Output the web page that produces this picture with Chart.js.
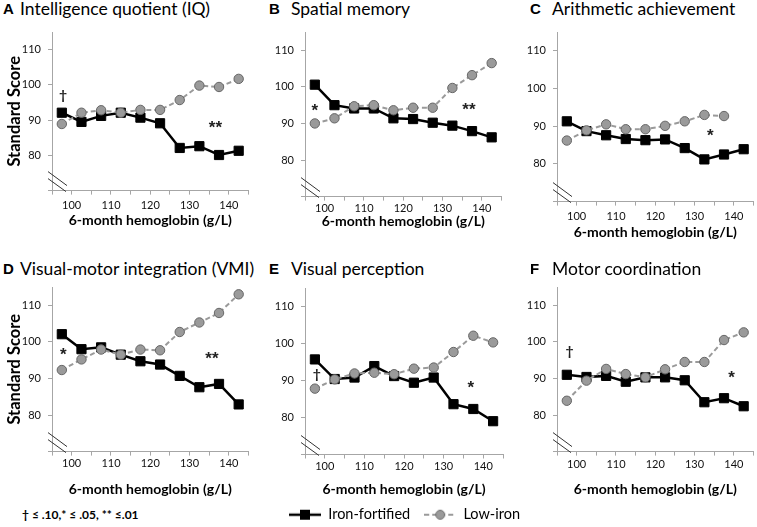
<!DOCTYPE html>
<html>
<head>
<meta charset="utf-8">
<script src="https://cdn.jsdelivr.net/npm/chart.js@4.4.0/dist/chart.umd.min.js"></script>
<style>
  html, body { margin: 0; padding: 0; background: #fff; }
  body { width: 757px; height: 527px; position: relative; overflow: hidden; font-family: Lato, sans-serif; color: #000; }
  canvas { position: absolute; }
  .letter { position: absolute; font-family: 'Liberation Sans', Arial, sans-serif; font-weight: bold; font-size: 15px; line-height: 20px; }
  .title { position: absolute; font-size: 17.5px; line-height: 20px; white-space: nowrap; }
  .footnote { position: absolute; left: 22px; top: 507px; font-size: 12px; font-weight: bold; line-height: 16px; white-space: nowrap; }
</style>
</head>
<body>
<div class="footnote">† ≤ .10,* ≤ .05, ** ≤.01</div>
<script>
// x positions of the ten hemoglobin groups, axis ticks
const hemoglobin = [97.5, 102.5, 107.5, 112.5, 117.5, 122.5, 127.5, 132.5, 137.5, 142.5];
const xTickMarks = [95, 100, 105, 110, 115, 120, 125, 130, 135, 140, 145];
const xTickLabels = [100, 110, 120, 130, 140];
const yTickMarks = [70, 80, 90, 100, 110];
const yTickLabels = [80, 90, 100, 110];

// A - IQ
const iqIron = [92.1, 89.5, 91.2, 92.1, 90.7, 89.1, 82.1, 82.6, 80.1, 81.3];
const iqLow = [88.9, 92.1, 92.8, 92.1, 92.9, 92.9, 95.7, 99.8, 99.4, 101.7];
const iqMarks = [{ text: '†', x: 97.8, y: 97.1 }, { text: '**', x: 136.6, y: 88.7 }];
// B - spatial memory
const spatialIron = [100.6, 95.0, 94.1, 94.1, 91.4, 91.2, 90.2, 89.4, 87.9, 86.2];
const spatialLow = [90.0, 91.4, 94.7, 95.0, 93.6, 94.3, 94.3, 99.7, 103.2, 106.5];
const spatialMarks = [{ text: '*', x: 97.5, y: 94.5 }, { text: '**', x: 136.7, y: 94.6 }];
// C - arithmetic
const arithIron = [91.3, 88.7, 87.6, 86.6, 86.3, 86.5, 84.2, 81.2, 82.5, 83.9];
const arithLow = [86.2, 88.9, 90.5, 89.2, 89.2, 90.1, 91.3, 93.0, 92.7, null];
const arithMarks = [{ text: '*', x: 134.0, y: 88.3 }];
// D - VMI
const vmiIron = [102.1, 98.0, 98.5, 96.5, 94.7, 93.8, 90.7, 87.6, 88.5, 82.9];
const vmiLow = [92.3, 95.2, 97.9, 96.5, 97.9, 97.7, 102.7, 105.3, 107.9, 113.0];
const vmiMarks = [{ text: '*', x: 97.9, y: 97.5 }, { text: '**', x: 135.7, y: 96.2 }];
// E - visual perception
const perceptionIron = [95.7, 90.4, 90.8, 93.9, 91.2, 89.4, 90.8, 83.6, 82.3, 79.0];
const perceptionLow = [87.8, 90.3, 91.9, 92.1, 91.7, 93.2, 93.5, 97.7, 102.1, 100.3];
const perceptionMarks = [{ text: '†', x: 98.0, y: 91.7 }, { text: '*', x: 136.9, y: 88.9 }];
// F - motor coordination
const motorIron = [91.0, 90.4, 90.7, 89.1, 90.3, 90.3, 89.5, 83.5, 84.6, 82.4];
const motorLow = [83.9, 89.4, 92.6, 91.2, 90.3, 92.5, 94.5, 94.5, 100.5, 102.6];
const motorMarks = [{ text: '†', x: 98.2, y: 97.5 }, { text: '*', x: 139.4, y: 91.0 }];

const FONT = 'Lato';
const AXIS_GRAY = '#a6a6a6';
const LOW_GRAY = '#9a9a9a';
const Y_AXIS_W = 48;
const PLOT_W = 198;
const X_TITLE_SIZE = 14;
const LEGEND_PAD = 14;
const LEGEND_Y = 515;

const panels = [
  { letter: 'A', title: 'Intelligence quotient (IQ)', iron: iqIron, low: iqLow, marks: iqMarks,
    col: 0, rowTop: 0, plotTop: 32, plotBottom: 191, labelGap: 15, titleGap: 30, yTitle: true },
  { letter: 'B', title: 'Spatial memory', iron: spatialIron, low: spatialLow, marks: spatialMarks,
    col: 1, rowTop: 0, plotTop: 32, plotBottom: 197, labelGap: 11.5, titleGap: 25 },
  { letter: 'C', title: 'Arithmetic achievement', iron: arithIron, low: arithLow, marks: arithMarks,
    col: 2, rowTop: 0, plotTop: 32, plotBottom: 202, labelGap: 14.5, titleGap: 31 },
  { letter: 'D', title: 'Visual-motor integration (VMI)', iron: vmiIron, low: vmiLow, marks: vmiMarks,
    col: 0, rowTop: 260, plotTop: 287, plotBottom: 452, labelGap: 11.5, titleGap: 38, yTitle: true },
  { letter: 'E', title: 'Visual perception', iron: perceptionIron, low: perceptionLow, marks: perceptionMarks,
    col: 1, rowTop: 260, plotTop: 288, plotBottom: 455, labelGap: 12, titleGap: 35, legend: true },
  { letter: 'F', title: 'Motor coordination', iron: motorIron, low: motorLow, marks: motorMarks,
    col: 2, rowTop: 260, plotTop: 287, plotBottom: 452, labelGap: 12.5, titleGap: 38 }
];
const colPlotLeft = [52, 305, 557];
const colLetterX = [3, 269, 530];
const colTitleX = [20, 291, 552];
const rowTitleY = { 0: -1, 260: 259 };

// legend swatches: line with marker in the middle
const makeSwatch = (kind) => {
  const c = document.createElement('canvas');
  c.width = 32; c.height = 12;
  const g = c.getContext('2d');
  g.beginPath();
  g.moveTo(0, 6); g.lineTo(32, 6);
  if (kind === 'iron') {
    g.strokeStyle = '#000'; g.lineWidth = 2.5; g.stroke();
    g.fillStyle = '#000'; g.fillRect(11, 1, 10, 10);
  } else {
    g.setLineDash([5, 3]);
    g.strokeStyle = LOW_GRAY; g.lineWidth = 2; g.stroke();
    g.setLineDash([]);
    g.beginPath(); g.arc(16, 6, 4.5, 0, Math.PI * 2);
    g.fillStyle = LOW_GRAY; g.fill();
    g.strokeStyle = '#6e6e6e'; g.lineWidth = 1; g.stroke();
  }
  return c;
};

// significance marks: asterisks sit high in the font, so push them down a little
const marksPlugin = {
  id: 'marks',
  afterDatasetsDraw(chart, args, opts) {
    const { ctx, scales: { x, y } } = chart;
    ctx.save();
    ctx.fillStyle = '#222';
    ctx.textAlign = 'center';
    ctx.textBaseline = 'middle';
    (opts.items || []).forEach(m => {
      const isDagger = m.text === '†';
      ctx.font = isDagger ? `bold 14px ${FONT}` : `bold 17px 'Liberation Sans'`;
      const dy = isDagger ? 0 : 4;
      ctx.fillText(m.text, x.getPixelForValue(m.x), y.getPixelForValue(m.y) + dy);
    });
    ctx.restore();
  }
};

// the "//" break on the value axis
const axisBreakPlugin = {
  id: 'axisBreak',
  afterDraw(chart) {
    const { ctx, chartArea: { left, bottom } } = chart;
    ctx.save();
    ctx.strokeStyle = '#333';
    ctx.lineWidth = 1;
    ctx.beginPath();
    ctx.moveTo(left - 4, bottom - 19); ctx.lineTo(left + 15, bottom - 5);
    ctx.moveTo(left - 4, bottom - 12); ctx.lineTo(left + 14, bottom + 1);
    ctx.stroke();
    ctx.restore();
  }
};

const toPoints = (vals) => hemoglobin.map((h, i) => ({ x: h, y: vals[i] }));

panels.forEach(p => {
  const letter = document.createElement('div');
  letter.className = 'letter';
  letter.textContent = p.letter;
  letter.style.left = colLetterX[p.col] + 'px';
  letter.style.top = rowTitleY[p.rowTop] + 'px';
  document.body.appendChild(letter);
  const title = document.createElement('div');
  title.className = 'title';
  title.textContent = p.title;
  title.style.left = colTitleX[p.col] + 'px';
  title.style.top = rowTitleY[p.rowTop] + 'px';
  document.body.appendChild(title);

  const half = X_TITLE_SIZE * 0.6;
  let xAxisH, canvasBottom, titlePadBottom = 0, rightW = 6;
  if (p.legend) {
    canvasBottom = LEGEND_Y + 17;
    xAxisH = canvasBottom - (24 + LEGEND_PAD) - p.plotBottom;
    titlePadBottom = p.plotBottom + xAxisH - half - (p.plotBottom + p.titleGap);
    rightW = 49;
  } else {
    xAxisH = p.titleGap + half;
    canvasBottom = p.plotBottom + xAxisH;
  }

  const canvas = document.createElement('canvas');
  canvas.width = Y_AXIS_W + PLOT_W + rightW;
  canvas.height = canvasBottom - p.rowTop;
  canvas.style.left = (colPlotLeft[p.col] - Y_AXIS_W) + 'px';
  canvas.style.top = p.rowTop + 'px';
  document.body.appendChild(canvas);

  const scales = {
    x: {
      type: 'linear', min: 95, max: 145,
      afterBuildTicks: s => { s.ticks = xTickMarks.map(v => ({ value: v })); },
      ticks: {
        autoSkip: false, maxRotation: 0, padding: p.labelGap - 4 - 6.6,
        font: { family: FONT, size: 11 }, color: '#111',
        callback: v => xTickLabels.includes(v) ? String(v) : ''
      },
      grid: { display: true, drawOnChartArea: false, drawTicks: true, tickLength: 4, color: AXIS_GRAY },
      border: { display: true, color: AXIS_GRAY, width: 1 },
      title: {
        display: true, text: '6-month hemoglobin (g/L)', color: '#000',
        font: { family: FONT, size: X_TITLE_SIZE, weight: 'bold' },
        padding: { top: 0, bottom: titlePadBottom }
      },
      afterFit: s => { s.height = xAxisH; }
    },
    y: {
      type: 'linear', position: 'left', min: 70, max: 115,
      afterBuildTicks: s => { s.ticks = yTickMarks.map(v => ({ value: v })); },
      ticks: {
        padding: 7, font: { family: FONT, size: 11 }, color: '#111',
        callback: v => yTickLabels.includes(v) ? String(v) : ''
      },
      grid: { display: true, drawOnChartArea: false, drawTicks: true, tickLength: 4, color: AXIS_GRAY },
      border: { display: true, color: AXIS_GRAY, width: 1 },
      title: {
        display: !!p.yTitle, text: 'Standard Score', color: '#000',
        font: { family: FONT, size: 16.5, weight: 'bold' },
        padding: { top: 1, bottom: 0 }
      },
      afterFit: s => { s.width = Y_AXIS_W; }
    }
  };
  if (p.legend) {
    // empty right-hand box so the legend is centred under the plot
    scales.pad = {
      type: 'linear', position: 'right', display: true,
      grid: { display: false }, border: { display: false }, ticks: { display: false },
      afterFit: s => { s.width = rightW; }
    };
  }

  new Chart(canvas, {
    type: 'line',
    data: {
      datasets: [
        {
          label: 'Low-iron', data: toPoints(p.low),
          borderColor: LOW_GRAY, borderWidth: 2, borderDash: [5, 3],
          pointStyle: 'circle', pointRadius: 4.7, pointBackgroundColor: LOW_GRAY,
          pointBorderColor: '#666', pointBorderWidth: 1, tension: 0, clip: false
        },
        {
          label: 'Iron-fortified', data: toPoints(p.iron),
          borderColor: '#000', borderWidth: 2.5,
          pointStyle: 'rect', pointRadius: 6.5, pointBackgroundColor: '#000',
          pointBorderColor: '#000', pointBorderWidth: 1, tension: 0, clip: false
        }
      ]
    },
    options: {
      responsive: false,
      animation: false,
      events: [],
      layout: { padding: { top: p.plotTop - p.rowTop, left: 0, right: p.legend ? 0 : rightW, bottom: 0 } },
      scales,
      plugins: {
        tooltip: { enabled: false },
        marks: { items: p.marks },
        legend: {
          display: !!p.legend,
          position: 'bottom',
          labels: {
            usePointStyle: true, pointStyleWidth: 32, padding: LEGEND_PAD,
            font: { family: FONT, size: 14.5 }, color: '#111',
            generateLabels: () => [
              { text: 'Iron-fortified', pointStyle: makeSwatch('iron'), fillStyle: '#000', strokeStyle: 'rgba(0,0,0,0)', lineWidth: 0, hidden: false, datasetIndex: 1 },
              { text: 'Low-iron', pointStyle: makeSwatch('low'), fillStyle: LOW_GRAY, strokeStyle: 'rgba(0,0,0,0)', lineWidth: 0, hidden: false, datasetIndex: 0 }
            ]
          }
        }
      }
    },
    plugins: [marksPlugin, axisBreakPlugin]
  });
});
</script>
</body>
</html>
